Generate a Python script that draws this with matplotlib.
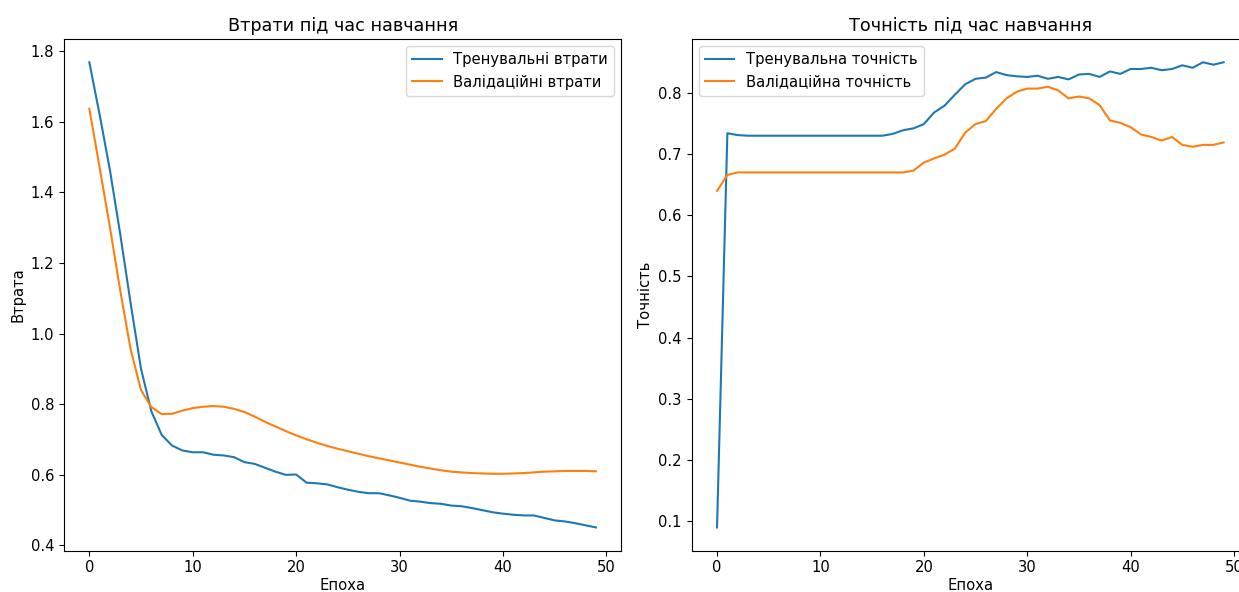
import matplotlib
matplotlib.use('Agg')
import matplotlib.pyplot as plt

epochs = list(range(50))

train_loss = [1.769, 1.62, 1.462, 1.28, 1.085, 0.90, 0.78, 0.713, 0.683, 0.669,
              0.664, 0.664, 0.657, 0.655, 0.650, 0.636, 0.631, 0.620, 0.609, 0.600,
              0.601, 0.578, 0.576, 0.573, 0.565, 0.558, 0.552, 0.548, 0.548, 0.542,
              0.535, 0.527, 0.524, 0.520, 0.518, 0.513, 0.511, 0.506, 0.500, 0.494,
              0.490, 0.487, 0.485, 0.485, 0.478, 0.471, 0.468, 0.463, 0.457, 0.451]

val_loss = [1.637, 1.47, 1.30, 1.12, 0.955, 0.84, 0.792, 0.772, 0.773, 0.782,
            0.789, 0.793, 0.795, 0.793, 0.787, 0.778, 0.765, 0.750, 0.737, 0.724,
            0.712, 0.701, 0.691, 0.682, 0.674, 0.667, 0.660, 0.653, 0.647, 0.641,
            0.635, 0.629, 0.623, 0.618, 0.613, 0.609, 0.607, 0.605, 0.604, 0.603,
            0.603, 0.604, 0.605, 0.607, 0.609, 0.610, 0.611, 0.611, 0.611, 0.610]

train_acc = [0.09, 0.734, 0.731, 0.730, 0.730, 0.730, 0.730, 0.730, 0.730, 0.730,
             0.730, 0.730, 0.730, 0.730, 0.730, 0.730, 0.730, 0.733, 0.739, 0.742,
             0.749, 0.768, 0.779, 0.797, 0.814, 0.823, 0.825, 0.834, 0.829, 0.827,
             0.826, 0.828, 0.823, 0.826, 0.822, 0.830, 0.831, 0.826, 0.835, 0.831,
             0.839, 0.839, 0.841, 0.837, 0.839, 0.845, 0.841, 0.850, 0.846, 0.850]

val_acc = [0.640, 0.666, 0.670, 0.670, 0.670, 0.670, 0.670, 0.670, 0.670, 0.670,
           0.670, 0.670, 0.670, 0.670, 0.670, 0.670, 0.670, 0.670, 0.670, 0.673,
           0.686, 0.693, 0.699, 0.709, 0.735, 0.749, 0.754, 0.774, 0.791, 0.802,
           0.807, 0.807, 0.810, 0.804, 0.791, 0.794, 0.791, 0.780, 0.755, 0.751,
           0.744, 0.732, 0.728, 0.722, 0.728, 0.715, 0.712, 0.715, 0.715, 0.719]

plt.rcParams['font.size'] = 10.6

fig = plt.figure(figsize=(12.39, 5.92), dpi=100)
ax1 = fig.add_axes([64 / 1239, 41.3 / 592, 557.3 / 1239, 511.7 / 592])
ax2 = fig.add_axes([691.7 / 1239, 41.3 / 592, 557.3 / 1239, 511.7 / 592])

# втрати
ax1.plot(epochs, train_loss, label='Тренувальні втрати')
ax1.plot(epochs, val_loss, label='Валідаційні втрати')
ax1.set_title('Втрати під час навчання')
ax1.set_xlabel('Епоха', labelpad=1.5)
ax1.set_ylabel('Втрата')
ax1.legend()

# точність
ax2.plot(epochs, train_acc, label='Тренувальна точність')
ax2.plot(epochs, val_acc, label='Валідаційна точність')
ax2.set_title('Точність під час навчання')
ax2.set_xlabel('Епоха', labelpad=1.5)
ax2.set_ylabel('Точність')
ax2.legend()

fig.savefig('out.png', dpi=100)
